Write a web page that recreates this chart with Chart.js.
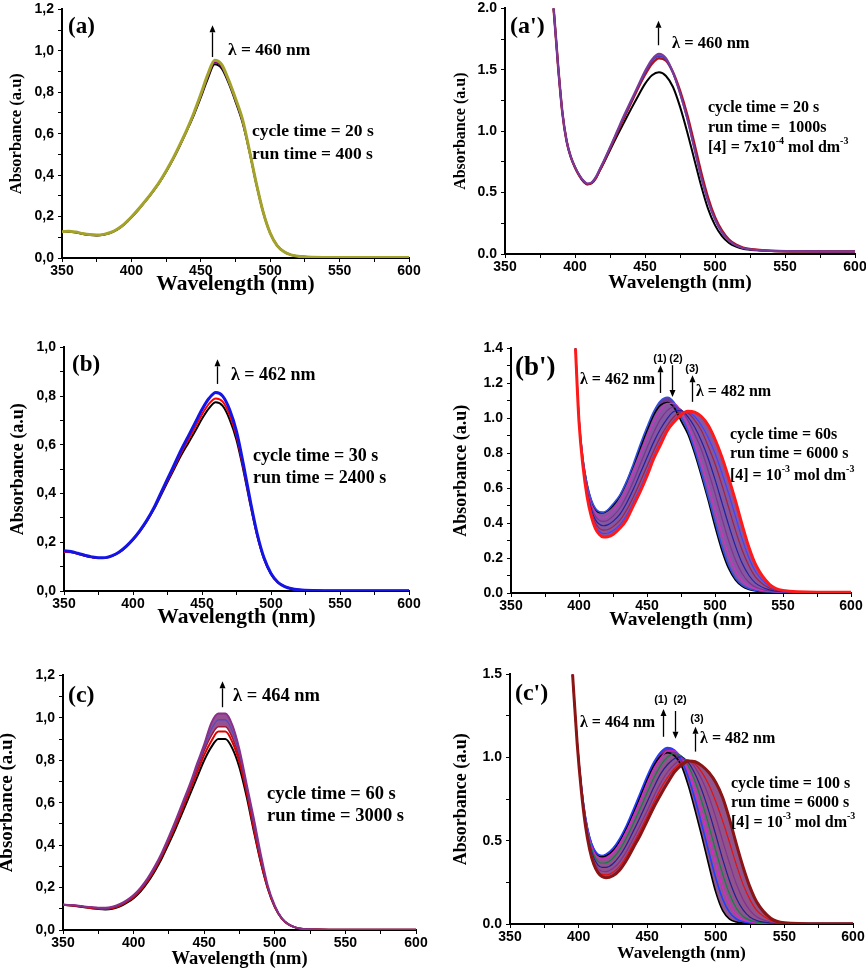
<!DOCTYPE html>
<html>
<head>
<meta charset="utf-8">
<script src="https://cdn.jsdelivr.net/npm/chart.js@4.4.1/dist/chart.umd.min.js"></script>
<style>
  html, body { margin: 0; padding: 0; background: #fff; }
  body { width: 866px; height: 969px; position: relative; overflow: hidden; }
  canvas { position: absolute; }
</style>
</head>
<body>
<canvas id="pa"></canvas>
<canvas id="pap"></canvas>
<canvas id="pb"></canvas>
<canvas id="pbp"></canvas>
<canvas id="pc"></canvas>
<canvas id="pcp"></canvas>
<script>
// panel (a)
const wlA = [350, 355, 360, 365, 370, 375, 380, 385, 390, 395, 400, 405, 410, 415, 420, 425, 430, 435, 440, 445, 450, 455, 460, 465, 470, 475, 480, 485, 490, 495, 500, 505, 510, 515, 520, 530, 550, 575, 600];
const aBlack = [0.125, 0.127, 0.123, 0.116, 0.111, 0.109, 0.112, 0.121, 0.138, 0.163, 0.196, 0.233, 0.273, 0.316, 0.362, 0.416, 0.476, 0.543, 0.615, 0.69, 0.775, 0.865, 0.935, 0.915, 0.845, 0.755, 0.655, 0.515, 0.357, 0.22, 0.12, 0.06, 0.03, 0.015, 0.008, 0.004, 0.003, 0.003, 0.003];
const aPurple = [0.126, 0.128, 0.124, 0.117, 0.112, 0.11, 0.113, 0.122, 0.139, 0.164, 0.197, 0.234, 0.274, 0.317, 0.364, 0.418, 0.478, 0.546, 0.618, 0.695, 0.782, 0.875, 0.945, 0.925, 0.852, 0.762, 0.662, 0.518, 0.358, 0.22, 0.12, 0.06, 0.03, 0.015, 0.008, 0.004, 0.003, 0.003, 0.003];
const aOlive = [0.127, 0.129, 0.125, 0.118, 0.113, 0.111, 0.114, 0.123, 0.14, 0.165, 0.198, 0.235, 0.275, 0.318, 0.365, 0.42, 0.48, 0.548, 0.62, 0.7, 0.79, 0.885, 0.955, 0.935, 0.86, 0.77, 0.67, 0.52, 0.36, 0.22, 0.12, 0.06, 0.03, 0.015, 0.008, 0.004, 0.003, 0.003, 0.003];

// panel (a')
const wlAp = [382, 385, 388, 391, 394, 397, 400, 403, 406, 409, 412, 415, 418, 421, 425, 430, 435, 440, 445, 450, 455, 460, 465, 470, 475, 480, 485, 490, 495, 500, 505, 510, 515, 520, 530, 540, 560, 580, 600];
const apBlack = [2.3, 1.96, 1.52, 1.15, 0.92, 0.79, 0.705, 0.64, 0.592, 0.568, 0.578, 0.62, 0.685, 0.75, 0.845, 0.96, 1.07, 1.18, 1.285, 1.385, 1.455, 1.48, 1.45, 1.36, 1.2, 1.0, 0.78, 0.56, 0.37, 0.235, 0.145, 0.09, 0.06, 0.043, 0.03, 0.025, 0.021, 0.02, 0.02];
const apRed = [2.3, 1.96, 1.52, 1.15, 0.92, 0.79, 0.705, 0.64, 0.592, 0.568, 0.578, 0.62, 0.69, 0.76, 0.86, 0.985, 1.11, 1.23, 1.35, 1.46, 1.55, 1.595, 1.575, 1.48, 1.33, 1.14, 0.91, 0.67, 0.46, 0.3, 0.19, 0.118, 0.076, 0.052, 0.034, 0.027, 0.022, 0.02, 0.02];
const apBlue = [2.3, 1.96, 1.52, 1.15, 0.92, 0.79, 0.708, 0.643, 0.596, 0.572, 0.582, 0.626, 0.695, 0.765, 0.865, 0.993, 1.12, 1.24, 1.36, 1.475, 1.57, 1.61, 1.58, 1.47, 1.305, 1.105, 0.87, 0.63, 0.43, 0.28, 0.175, 0.108, 0.07, 0.048, 0.032, 0.026, 0.022, 0.02, 0.02];
const apPurple = [2.3, 1.96, 1.52, 1.15, 0.92, 0.79, 0.71, 0.645, 0.598, 0.575, 0.585, 0.63, 0.7, 0.77, 0.87, 1.0, 1.13, 1.25, 1.37, 1.49, 1.585, 1.63, 1.595, 1.48, 1.31, 1.11, 0.87, 0.63, 0.43, 0.28, 0.175, 0.108, 0.07, 0.048, 0.032, 0.026, 0.022, 0.02, 0.02];

// panel (b)
const wlB = [350, 355, 360, 365, 370, 375, 380, 385, 390, 395, 400, 405, 410, 415, 420, 425, 430, 435, 440, 445, 450, 455, 460, 465, 470, 475, 480, 485, 490, 495, 500, 505, 510, 515, 520, 530, 550, 575, 600];
const bBlack = [0.163, 0.16, 0.153, 0.145, 0.139, 0.135, 0.136, 0.144, 0.159, 0.181, 0.21, 0.245, 0.286, 0.334, 0.39, 0.447, 0.503, 0.558, 0.607, 0.656, 0.707, 0.75, 0.775, 0.76, 0.705, 0.62, 0.495, 0.355, 0.227, 0.131, 0.07, 0.035, 0.018, 0.009, 0.005, 0.002, 0.001, 0.001, 0.001];
const bRed = [0.16, 0.159, 0.153, 0.145, 0.139, 0.135, 0.136, 0.144, 0.159, 0.182, 0.211, 0.246, 0.288, 0.337, 0.395, 0.453, 0.51, 0.568, 0.62, 0.672, 0.725, 0.768, 0.79, 0.777, 0.723, 0.636, 0.506, 0.362, 0.23, 0.133, 0.071, 0.035, 0.018, 0.009, 0.005, 0.002, 0.001, 0.001, 0.001];
const bBlue = [0.165, 0.162, 0.155, 0.147, 0.14, 0.136, 0.137, 0.145, 0.16, 0.183, 0.212, 0.248, 0.29, 0.34, 0.4, 0.46, 0.52, 0.58, 0.635, 0.69, 0.745, 0.79, 0.815, 0.8, 0.745, 0.655, 0.52, 0.37, 0.235, 0.135, 0.072, 0.036, 0.018, 0.009, 0.005, 0.002, 0.001, 0.001, 0.001];

// panel (b')
const wlBp = [394, 397, 400, 403, 406, 409, 412, 415, 418, 421, 425, 430, 435, 440, 445, 450, 455, 460, 465, 470, 475, 480, 485, 490, 495, 500, 505, 510, 515, 520, 525, 530, 540, 550, 575, 600];
const bp0 = [1.95, 1.47, 1.0, 0.76, 0.62, 0.53, 0.48, 0.46, 0.46, 0.472, 0.5, 0.555, 0.635, 0.73, 0.83, 0.93, 1.02, 1.075, 1.09, 1.06, 0.985, 0.91, 0.8, 0.67, 0.53, 0.38, 0.245, 0.14, 0.075, 0.038, 0.02, 0.012, 0.006, 0.005, 0.004, 0.004];
const bp1 = [1.95, 1.47, 1.0, 0.76, 0.62, 0.535, 0.485, 0.465, 0.462, 0.475, 0.51, 0.56, 0.64, 0.74, 0.85, 0.95, 1.04, 1.1, 1.12, 1.09, 1.01, 0.93, 0.82, 0.69, 0.55, 0.41, 0.27, 0.16, 0.085, 0.045, 0.025, 0.014, 0.007, 0.005, 0.004, 0.004];
const bp2 = [1.95, 1.47, 0.99, 0.75, 0.6, 0.51, 0.46, 0.435, 0.43, 0.44, 0.47, 0.52, 0.595, 0.69, 0.79, 0.89, 0.98, 1.045, 1.085, 1.085, 1.04, 0.96, 0.86, 0.745, 0.615, 0.48, 0.345, 0.22, 0.13, 0.07, 0.04, 0.022, 0.009, 0.006, 0.005, 0.005];
const bp3 = [1.95, 1.47, 0.99, 0.745, 0.59, 0.495, 0.44, 0.415, 0.41, 0.415, 0.44, 0.485, 0.555, 0.64, 0.735, 0.83, 0.92, 0.995, 1.045, 1.065, 1.05, 0.99, 0.91, 0.82, 0.7, 0.57, 0.43, 0.3, 0.19, 0.11, 0.06, 0.033, 0.012, 0.007, 0.005, 0.005];
const bp4 = [1.95, 1.47, 0.985, 0.74, 0.58, 0.48, 0.42, 0.393, 0.385, 0.39, 0.41, 0.45, 0.515, 0.595, 0.685, 0.775, 0.865, 0.94, 1.0, 1.04, 1.045, 1.01, 0.95, 0.87, 0.77, 0.65, 0.52, 0.39, 0.27, 0.17, 0.1, 0.055, 0.018, 0.008, 0.005, 0.005];
const bp5 = [1.95, 1.47, 0.985, 0.735, 0.57, 0.465, 0.4, 0.37, 0.36, 0.362, 0.38, 0.415, 0.475, 0.55, 0.635, 0.725, 0.815, 0.895, 0.96, 1.01, 1.04, 1.03, 0.99, 0.93, 0.84, 0.74, 0.62, 0.49, 0.36, 0.245, 0.155, 0.09, 0.028, 0.01, 0.005, 0.005];
const bp6 = [1.95, 1.47, 0.98, 0.73, 0.56, 0.452, 0.385, 0.352, 0.34, 0.342, 0.357, 0.39, 0.445, 0.52, 0.6, 0.69, 0.785, 0.865, 0.935, 0.99, 1.025, 1.035, 1.01, 0.96, 0.89, 0.8, 0.69, 0.57, 0.44, 0.31, 0.2, 0.12, 0.038, 0.012, 0.005, 0.005];
const bp7 = [1.95, 1.47, 0.98, 0.72, 0.55, 0.44, 0.37, 0.335, 0.32, 0.322, 0.335, 0.37, 0.42, 0.5, 0.58, 0.67, 0.77, 0.85, 0.93, 0.98, 1.02, 1.04, 1.035, 1.01, 0.96, 0.88, 0.78, 0.66, 0.53, 0.39, 0.26, 0.16, 0.05, 0.015, 0.005, 0.005];

// panel (c)
const wlC = [350, 355, 360, 365, 370, 375, 380, 385, 390, 395, 400, 405, 410, 415, 420, 425, 430, 435, 440, 445, 450, 455, 460, 465, 470, 475, 480, 485, 490, 495, 500, 505, 510, 515, 520, 530, 550, 575, 600];
const cBlack = [0.118, 0.116, 0.112, 0.107, 0.103, 0.099, 0.097, 0.1, 0.11, 0.128, 0.15, 0.182, 0.225, 0.277, 0.338, 0.408, 0.482, 0.56, 0.64, 0.72, 0.8, 0.862, 0.9, 0.9, 0.855, 0.765, 0.63, 0.47, 0.32, 0.196, 0.108, 0.054, 0.025, 0.011, 0.005, 0.002, 0.001, 0.001, 0.001];
const cRed = [0.119, 0.117, 0.113, 0.108, 0.104, 0.1, 0.099, 0.103, 0.114, 0.132, 0.155, 0.188, 0.232, 0.285, 0.348, 0.42, 0.496, 0.577, 0.66, 0.743, 0.825, 0.89, 0.935, 0.935, 0.885, 0.79, 0.65, 0.48, 0.325, 0.198, 0.109, 0.054, 0.025, 0.011, 0.005, 0.002, 0.001, 0.001, 0.001];
const cBand1 = [0.12, 0.118, 0.114, 0.109, 0.105, 0.102, 0.101, 0.105, 0.116, 0.134, 0.158, 0.192, 0.236, 0.29, 0.354, 0.428, 0.506, 0.59, 0.673, 0.76, 0.845, 0.915, 0.958, 0.958, 0.905, 0.81, 0.665, 0.495, 0.335, 0.203, 0.112, 0.055, 0.025, 0.011, 0.005, 0.002, 0.001, 0.001, 0.001];
const cBand2 = [0.12, 0.118, 0.115, 0.11, 0.107, 0.104, 0.103, 0.108, 0.119, 0.137, 0.162, 0.196, 0.241, 0.295, 0.36, 0.434, 0.513, 0.598, 0.682, 0.773, 0.86, 0.945, 0.99, 0.99, 0.935, 0.83, 0.678, 0.512, 0.347, 0.207, 0.113, 0.055, 0.025, 0.011, 0.005, 0.002, 0.001, 0.001, 0.001];
const cTop = [0.12, 0.118, 0.115, 0.111, 0.108, 0.105, 0.105, 0.11, 0.122, 0.14, 0.165, 0.2, 0.245, 0.3, 0.365, 0.44, 0.52, 0.605, 0.69, 0.785, 0.875, 0.975, 1.02, 1.02, 0.965, 0.85, 0.69, 0.53, 0.36, 0.21, 0.115, 0.055, 0.025, 0.011, 0.005, 0.002, 0.001, 0.001, 0.001];

// panel (c')
const wlCp = [393, 396, 399, 402, 405, 408, 411, 414, 417, 420, 425, 430, 435, 440, 445, 450, 455, 460, 465, 470, 475, 480, 485, 490, 495, 500, 505, 510, 515, 520, 525, 530, 540, 550, 575, 600];
const cp0 = [1.85, 1.45, 1.09, 0.83, 0.64, 0.52, 0.45, 0.415, 0.405, 0.41, 0.44, 0.5, 0.58, 0.67, 0.77, 0.87, 0.955, 1.01, 1.03, 1.01, 0.95, 0.83, 0.68, 0.52, 0.35, 0.19, 0.08, 0.03, 0.012, 0.006, 0.004, 0.003, 0.002, 0.002, 0.002, 0.002];
const cp1 = [1.85, 1.45, 1.09, 0.83, 0.645, 0.525, 0.455, 0.42, 0.412, 0.42, 0.455, 0.515, 0.595, 0.69, 0.79, 0.89, 0.975, 1.035, 1.06, 1.045, 0.985, 0.88, 0.745, 0.59, 0.43, 0.275, 0.15, 0.07, 0.03, 0.013, 0.007, 0.004, 0.002, 0.002, 0.002, 0.002];
const cp2 = [1.85, 1.45, 1.09, 0.825, 0.635, 0.51, 0.437, 0.4, 0.39, 0.395, 0.43, 0.485, 0.56, 0.65, 0.745, 0.845, 0.935, 1.0, 1.04, 1.04, 1.0, 0.92, 0.8, 0.66, 0.51, 0.36, 0.22, 0.12, 0.055, 0.025, 0.012, 0.006, 0.003, 0.002, 0.002, 0.002];
const cp3 = [1.85, 1.45, 1.085, 0.82, 0.625, 0.495, 0.418, 0.378, 0.365, 0.367, 0.395, 0.447, 0.52, 0.605, 0.695, 0.79, 0.88, 0.955, 1.005, 1.025, 1.01, 0.95, 0.855, 0.73, 0.59, 0.44, 0.3, 0.18, 0.095, 0.045, 0.022, 0.011, 0.004, 0.002, 0.002, 0.002];
const cp4 = [1.85, 1.45, 1.085, 0.815, 0.615, 0.48, 0.4, 0.356, 0.34, 0.34, 0.362, 0.41, 0.478, 0.56, 0.645, 0.735, 0.825, 0.905, 0.96, 0.995, 1.005, 0.97, 0.9, 0.8, 0.675, 0.535, 0.39, 0.26, 0.155, 0.083, 0.04, 0.02, 0.006, 0.003, 0.002, 0.002];
const cp5 = [1.85, 1.45, 1.085, 0.81, 0.605, 0.467, 0.383, 0.335, 0.317, 0.315, 0.333, 0.375, 0.438, 0.515, 0.595, 0.68, 0.77, 0.85, 0.915, 0.96, 0.99, 0.985, 0.94, 0.865, 0.765, 0.64, 0.5, 0.365, 0.24, 0.145, 0.08, 0.042, 0.012, 0.004, 0.002, 0.002];
const cp6 = [1.85, 1.45, 1.08, 0.805, 0.597, 0.458, 0.37, 0.32, 0.298, 0.295, 0.31, 0.348, 0.41, 0.485, 0.563, 0.648, 0.735, 0.815, 0.883, 0.937, 0.97, 0.98, 0.96, 0.91, 0.835, 0.735, 0.62, 0.49, 0.355, 0.235, 0.145, 0.08, 0.022, 0.006, 0.002, 0.002];
const cp7 = [1.85, 1.45, 1.08, 0.8, 0.59, 0.45, 0.36, 0.31, 0.285, 0.278, 0.29, 0.325, 0.385, 0.46, 0.535, 0.62, 0.705, 0.78, 0.85, 0.915, 0.955, 0.98, 0.975, 0.95, 0.91, 0.85, 0.76, 0.63, 0.48, 0.34, 0.22, 0.13, 0.035, 0.008, 0.002, 0.002];

const SERIF = '"Liberation Serif", "Times New Roman", serif';
const SANS = '"Liberation Sans", Arial, sans-serif';
const Y_W = 70, X_H = 46;

const conc4 = ['[4] = 7x10', ['-4'], ' mol dm', ['-3']];
const conc3 = ['[4] = 10', ['-3'], ' mol dm', ['-3']];

const panels = [
  {
    id: 'pa', box: [62, 7, 409, 258], yMax: 1.2, yStep: 0.1, yMajor: 0.2, comma: true,
    yGap: 45, xGap: 26, fs: { ytitle: 16.5, xtitle: 21.5 },
    x: wlA,
    curves: [
      { y: aBlack, c: '#000000', w: 2 },
      { y: aPurple, c: '#800080', w: 2 },
      { y: aOlive, c: '#a3a32b', w: 3 }
    ],
    texts: [
      { x: 354.3, y: 1.114, parts: ['(a)'], size: 23 },
      { x: 469.6, y: 1.004, parts: ['λ = 460 nm'], size: 17.5 },
      { x: 486.9, y: 0.612, parts: ['cycle time = 20 s'], size: 17.5 },
      { x: 486.9, y: 0.502, parts: ['run time = 400 s'], size: 17.5 }
    ],
    arrows: [[458, 0.97, 1.123]]
  },
  {
    id: 'pap', box: [505, 6, 855, 254], yMax: 2.0, yStep: 0.25, yMajor: 0.5, comma: false,
    yGap: 44, xGap: 29, fs: { ytitle: 16, xtitle: 19.5 },
    x: wlAp, band: 'rgba(95, 60, 165, 0.85)',
    curves: [
      { y: apBlack, c: '#000000', w: 2 },
      { y: apRed, c: '#b01020', w: 2.5 },
      { y: apBlue, c: '#4040c0', w: 1.5 },
      { y: apPurple, c: '#7a3a9a', w: 2, fill: true }
    ],
    texts: [
      { x: 353.6, y: 1.847, parts: ["(a')"], size: 24 },
      { x: 469.3, y: 1.71, parts: ['λ = 460 nm'], size: 16.5 },
      { x: 495, y: 1.19, parts: ['cycle time = 20 s'], size: 16 },
      { x: 495, y: 1.024, parts: ['run time =  1000s'], size: 16 },
      { x: 495, y: 0.863, parts: conc4, size: 16 }
    ],
    arrows: [[459.3, 1.70, 1.90]]
  },
  {
    id: 'pb', box: [64, 345, 409, 591], yMax: 1.0, yStep: 0.1, yMajor: 0.2, comma: true,
    yGap: 46, xGap: 26, fs: { ytitle: 18, xtitle: 21.5 },
    x: wlB,
    curves: [
      { y: bBlack, c: '#000000', w: 2 },
      { y: bRed, c: '#ff0000', w: 2 },
      { y: bBlue, c: '#1414e6', w: 3 }
    ],
    texts: [
      { x: 355.8, y: 0.927, parts: ['(b)'], size: 23 },
      { x: 471, y: 0.886, parts: ['λ = 462 nm'], size: 18 },
      { x: 487, y: 0.553, parts: ['cycle time = 30 s'], size: 18 },
      { x: 487, y: 0.463, parts: ['run time = 2400 s'], size: 18 }
    ],
    arrows: [[460.9, 0.85, 0.951]]
  },
  {
    id: 'pbp', box: [511, 346, 851, 593], yMax: 1.4, yStep: 0.1, yMajor: 0.2, comma: false,
    yGap: 50, xGap: 27, fs: { ytitle: 18, xtitle: 19.5 },
    x: wlBp, band: 'rgba(105, 50, 140, 0.82)',
    curves: [
      { y: bp0, c: '#000000', w: 1.6 },
      { y: bp1, c: '#3050e0', w: 1.6, fill: true },
      { y: bp2, c: '#d030c0', w: 1.2, fill: true },
      { y: bp3, c: '#803090', w: 1.2, fill: true },
      { y: bp4, c: '#2020a0', w: 1.2, fill: true },
      { y: bp5, c: '#a02040', w: 1.2, fill: true },
      { y: bp6, c: '#4040ff', w: 1.2, fill: true },
      { y: bp7, c: '#ff1a1a', w: 3, fill: true }
    ],
    texts: [
      { x: 352.9, y: 1.287, parts: ["(b')"], size: 27 },
      { x: 400.7, y: 1.219, parts: ['λ = 462 nm'], size: 16 },
      { x: 459.6, y: 1.338, parts: ['(1)'], size: 11, sans: true, center: true },
      { x: 471.3, y: 1.338, parts: ['(2)'], size: 11, sans: true, center: true },
      { x: 483.1, y: 1.281, parts: ['(3)'], size: 11, sans: true, center: true },
      { x: 486, y: 1.151, parts: ['λ = 482 nm'], size: 16 },
      { x: 511, y: 0.907, parts: ['cycle time = 60s'], size: 16 },
      { x: 511, y: 0.794, parts: ['run time = 6000 s'], size: 16 },
      { x: 511, y: 0.669, parts: conc3, size: 16 }
    ],
    arrows: [[459.6, 1.145, 1.304], [468.4, 1.304, 1.122], [483.1, 1.094, 1.247]]
  },
  {
    id: 'pc', box: [63, 673, 416, 930], yMax: 1.2, yStep: 0.1, yMajor: 0.2, comma: true,
    yGap: 56, xGap: 29, fs: { ytitle: 19, xtitle: 18.5 },
    x: wlC, band: 'rgba(130, 50, 125, 0.85)',
    curves: [
      { y: cBlack, c: '#000000', w: 2 },
      { y: cRed, c: '#e00000', w: 2 },
      { y: cBand1, c: '#a01838', w: 1.5 },
      { y: cBand2, c: '#5048c0', w: 1.2, fill: true },
      { y: cTop, c: '#8a2f8a', w: 2, fill: true }
    ],
    texts: [
      { x: 353.5, y: 1.106, parts: ['(c)'], size: 24 },
      { x: 470.4, y: 1.102, parts: ['λ = 464 nm'], size: 18.5 },
      { x: 494.5, y: 0.64, parts: ['cycle time = 60 s'], size: 18.5 },
      { x: 494.5, y: 0.537, parts: ['run time = 3000 s'], size: 18.5 }
    ],
    arrows: [[462.6, 1.05, 1.172]]
  },
  {
    id: 'pcp', box: [510, 672, 853, 924], yMax: 1.5, yStep: 0.25, yMajor: 0.5, comma: false,
    yGap: 49, xGap: 29, fs: { ytitle: 18, xtitle: 17.5 },
    x: wlCp, band: 'rgba(120, 45, 115, 0.82)',
    curves: [
      { y: cp0, c: '#000000', w: 1.6 },
      { y: cp1, c: '#2040ff', w: 1.6, fill: true },
      { y: cp2, c: '#e020d0', w: 1.2, fill: true },
      { y: cp3, c: '#108040', w: 1.2, fill: true },
      { y: cp4, c: '#202090', w: 1.2, fill: true },
      { y: cp5, c: '#803090', w: 1.2, fill: true },
      { y: cp6, c: '#e01010', w: 1.2, fill: true },
      { y: cp7, c: '#8b1414', w: 3, fill: true }
    ],
    texts: [
      { x: 353.6, y: 1.381, parts: ["(c')"], size: 24 },
      { x: 401, y: 1.208, parts: ['λ = 464 nm'], size: 16 },
      { x: 460, y: 1.345, parts: ['(1)'], size: 11, sans: true, center: true },
      { x: 473.9, y: 1.345, parts: ['(2)'], size: 11, sans: true, center: true },
      { x: 486.3, y: 1.232, parts: ['(3)'], size: 11, sans: true, center: true },
      { x: 488.5, y: 1.113, parts: ['λ = 482 nm'], size: 16 },
      { x: 511, y: 0.845, parts: ['cycle time = 100 s'], size: 16 },
      { x: 511, y: 0.726, parts: ['run time = 6000 s'], size: 16 },
      { x: 511, y: 0.607, parts: conc3, size: 16 }
    ],
    arrows: [[461.5, 1.125, 1.292], [470.3, 1.28, 1.113], [484.8, 1.036, 1.185]]
  }
];

function drawParts(ctx, x, y, parts, size, family, center) {
  const big = 'bold ' + size + 'px ' + family;
  const small = 'bold ' + Math.round(size * 0.62) + 'px ' + family;
  let w = 0;
  parts.forEach(p => {
    const sup = Array.isArray(p);
    ctx.font = sup ? small : big;
    w += ctx.measureText(sup ? p[0] : p).width;
  });
  let cx = center ? x - w / 2 : x;
  parts.forEach(p => {
    const sup = Array.isArray(p), t = sup ? p[0] : p;
    ctx.font = sup ? small : big;
    ctx.fillText(t, cx, sup ? y - size * 0.4 : y);
    cx += ctx.measureText(t).width;
  });
}

function drawArrow(ctx, px, y1, y2) {
  const dir = y2 < y1 ? -1 : 1;
  const head = 7;
  ctx.lineWidth = 1.3;
  ctx.beginPath();
  ctx.moveTo(px, y1);
  ctx.lineTo(px, y2 - dir * head);
  ctx.stroke();
  ctx.beginPath();
  ctx.moveTo(px, y2);
  ctx.lineTo(px - 3, y2 - dir * head);
  ctx.lineTo(px + 3, y2 - dir * head);
  ctx.closePath();
  ctx.fill();
}

const notesPlugin = {
  id: 'notes',
  afterDraw(chart, args, opts) {
    const { ctx } = chart;
    const xs = chart.scales.x, ys = chart.scales.y;
    ctx.save();
    ctx.fillStyle = '#000';
    ctx.strokeStyle = '#000';
    ctx.textAlign = 'left';
    ctx.textBaseline = 'middle';
    (opts.texts || []).forEach(t => {
      drawParts(ctx, xs.getPixelForValue(t.x), ys.getPixelForValue(t.y), t.parts, t.size,
        t.sans ? SANS : SERIF, t.center);
    });
    (opts.arrows || []).forEach(a => {
      drawArrow(ctx, Math.round(xs.getPixelForValue(a[0])) + 0.5, ys.getPixelForValue(a[1]), ys.getPixelForValue(a[2]));
    });
    ctx.restore();
  }
};

function isMajor(v, step) {
  return Math.abs(v / step - Math.round(v / step)) < 1e-6;
}

panels.forEach(p => {
  const [L, T, R, B] = p.box;
  const canvas = document.getElementById(p.id);
  canvas.width = R - L + Y_W + 16;
  canvas.height = B - T + 10 + X_H;
  canvas.style.left = (L - Y_W) + 'px';
  canvas.style.top = (T - 10) + 'px';

  const n = p.curves.length;
  const datasets = p.curves.map((cv, i) => ({
    data: p.x.map((x, k) => ({ x: x, y: cv.y[k] })),
    borderColor: cv.c,
    borderWidth: cv.w,
    pointRadius: 0,
    cubicInterpolationMode: 'monotone',
    borderJoinStyle: 'round',
    fill: cv.fill ? '-1' : false,
    backgroundColor: p.band || 'transparent',
    order: n - i
  }));

  const tickFont = { family: SANS, size: 14, weight: 'bold' };

  new Chart(canvas.getContext('2d'), {
    type: 'line',
    data: { datasets: datasets },
    options: {
      responsive: false,
      animation: false,
      layout: { padding: { left: 0, right: 16, top: 10, bottom: 0 } },
      scales: {
        x: {
          type: 'linear',
          min: 350,
          max: 600,
          ticks: {
            stepSize: 25,
            autoSkip: false,
            maxRotation: 0,
            padding: 1,
            color: '#000',
            font: tickFont,
            callback: v => (v % 50 === 0 ? v : '')
          },
          grid: { drawOnChartArea: false, drawTicks: true, tickLength: 4, color: '#000', lineWidth: 1 },
          border: { display: true, color: '#000', width: 2 },
          title: {
            display: true,
            text: 'Wavelength (nm)',
            color: '#000',
            font: { family: SERIF, size: p.fs.xtitle, weight: 'bold', lineHeight: 1 },
            padding: { top: 0, bottom: X_H - p.xGap - p.fs.xtitle / 2 }
          },
          afterFit: s => { s.height = X_H; }
        },
        y: {
          type: 'linear',
          min: 0,
          max: p.yMax,
          ticks: {
            stepSize: p.yStep,
            autoSkip: false,
            padding: 4,
            color: '#000',
            font: tickFont,
            callback: v => {
              if (!isMajor(v, p.yMajor)) return '';
              const s = (Math.round(v * 10) / 10).toFixed(1);
              return p.comma ? s.replace('.', ',') : s;
            }
          },
          grid: { drawOnChartArea: false, drawTicks: true, tickLength: 4, color: '#000', lineWidth: 1 },
          border: { display: true, color: '#000', width: 2 },
          title: {
            display: true,
            text: 'Absorbance (a.u)',
            color: '#000',
            font: { family: SERIF, size: p.fs.ytitle, weight: 'bold', lineHeight: 1 },
            padding: { top: Y_W - p.yGap - p.fs.ytitle / 2, bottom: 0 }
          },
          afterFit: s => { s.width = Y_W; }
        }
      },
      plugins: {
        legend: { display: false },
        tooltip: { enabled: false },
        filler: { drawTime: 'beforeDatasetsDraw' },
        notes: { texts: p.texts, arrows: p.arrows }
      }
    },
    plugins: [notesPlugin]
  });
});
</script>
</body>
</html>
